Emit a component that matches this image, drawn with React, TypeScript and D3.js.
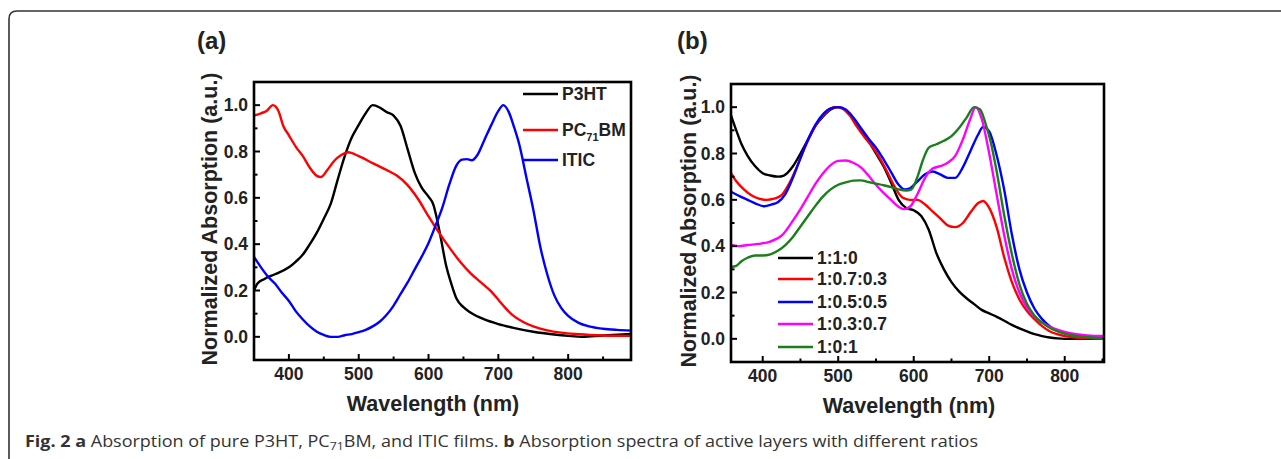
import * as d3 from "d3";
import React from "react";

// ---- data (wavelength nm, normalized absorption) ----
const p3ht: [number, number][] = [
  [350, 0.2], [355, 0.23], [365, 0.25], [380, 0.27], [400, 0.3], [410, 0.325], [420, 0.355],
  [430, 0.4], [440, 0.45], [450, 0.51], [460, 0.575], [470, 0.68], [480, 0.78], [490, 0.86],
  [500, 0.915], [510, 0.965], [520, 1.0], [530, 0.99], [540, 0.97], [550, 0.955], [560, 0.91],
  [570, 0.81], [580, 0.71], [590, 0.645], [600, 0.605], [607, 0.57], [612, 0.51], [618, 0.42],
  [625, 0.31], [632, 0.235], [640, 0.165], [650, 0.128], [660, 0.105], [680, 0.075], [700, 0.055],
  [720, 0.04], [750, 0.022], [780, 0.01], [800, 0.004], [820, 0.0], [850, 0.006], [890, 0.012],
];

const pc71bm: [number, number][] = [
  [350, 0.955], [360, 0.965], [368, 0.975], [377, 1.0], [385, 0.975], [392, 0.91], [400, 0.87],
  [410, 0.82], [420, 0.78], [430, 0.73], [440, 0.695], [446, 0.69], [455, 0.72], [465, 0.76],
  [475, 0.785], [485, 0.797], [500, 0.78], [520, 0.75], [540, 0.72], [555, 0.695], [570, 0.655],
  [585, 0.595], [600, 0.52], [615, 0.45], [630, 0.385], [645, 0.325], [660, 0.275], [675, 0.235],
  [690, 0.195], [700, 0.16], [710, 0.125], [720, 0.095], [735, 0.065], [750, 0.045], [770, 0.028],
  [790, 0.018], [810, 0.012], [840, 0.007], [890, 0.004],
];

const itic: [number, number][] = [
  [350, 0.345], [360, 0.3], [370, 0.26], [380, 0.23], [390, 0.19], [400, 0.155], [410, 0.11],
  [420, 0.075], [430, 0.045], [440, 0.022], [450, 0.008], [460, 0.0], [470, 0.0], [480, 0.007],
  [490, 0.012], [500, 0.02], [510, 0.03], [520, 0.045], [530, 0.065], [540, 0.095], [550, 0.135],
  [560, 0.185], [570, 0.235], [580, 0.29], [590, 0.345], [600, 0.405], [610, 0.48], [620, 0.56],
  [630, 0.66], [640, 0.74], [648, 0.765], [655, 0.767], [662, 0.762], [670, 0.785], [680, 0.85],
  [690, 0.915], [700, 0.975], [707, 1.0], [715, 0.97], [722, 0.91], [730, 0.83], [740, 0.69],
  [750, 0.55], [760, 0.39], [770, 0.27], [780, 0.18], [790, 0.125], [800, 0.09], [815, 0.06],
  [830, 0.045], [850, 0.035], [870, 0.03], [890, 0.027],
];

const r110: [number, number][] = [
  [358, 0.965], [365, 0.9], [372, 0.84], [380, 0.79], [390, 0.745], [400, 0.715], [410, 0.705],
  [420, 0.7], [428, 0.705], [440, 0.745], [450, 0.8], [460, 0.86], [470, 0.92], [480, 0.96],
  [490, 0.99], [500, 1.0], [510, 0.985], [520, 0.95], [530, 0.9], [540, 0.855], [550, 0.8],
  [560, 0.745], [570, 0.675], [580, 0.6], [590, 0.565], [600, 0.555], [610, 0.53], [620, 0.47],
  [630, 0.37], [640, 0.3], [650, 0.245], [660, 0.205], [670, 0.175], [680, 0.15], [690, 0.125],
  [700, 0.11], [710, 0.095], [720, 0.078], [730, 0.06], [740, 0.045], [750, 0.032], [760, 0.02],
  [770, 0.012], [780, 0.006], [790, 0.002], [800, 0.0], [852, 0.0],
];

const r10703: [number, number][] = [
  [358, 0.715], [365, 0.68], [375, 0.645], [385, 0.62], [395, 0.605], [405, 0.6], [415, 0.605],
  [425, 0.62], [435, 0.67], [445, 0.74], [455, 0.82], [465, 0.89], [475, 0.945], [485, 0.98],
  [495, 1.0], [505, 0.995], [515, 0.965], [525, 0.915], [535, 0.87], [545, 0.83], [555, 0.78],
  [565, 0.72], [575, 0.655], [585, 0.61], [595, 0.6], [605, 0.6], [615, 0.58], [625, 0.55],
  [635, 0.52], [645, 0.49], [655, 0.482], [665, 0.5], [675, 0.545], [685, 0.585], [692, 0.595],
  [700, 0.565], [710, 0.48], [720, 0.35], [730, 0.245], [740, 0.17], [750, 0.12], [760, 0.085],
  [770, 0.055], [780, 0.033], [790, 0.02], [800, 0.012], [820, 0.004], [852, 0.0],
];

const r10505: [number, number][] = [
  [358, 0.635], [370, 0.615], [380, 0.6], [390, 0.585], [402, 0.572], [412, 0.58], [420, 0.59],
  [430, 0.625], [440, 0.695], [450, 0.78], [460, 0.86], [470, 0.925], [480, 0.97], [490, 0.995],
  [500, 1.0], [510, 0.99], [520, 0.955], [530, 0.91], [540, 0.865], [550, 0.825], [560, 0.775],
  [570, 0.72], [580, 0.665], [588, 0.645], [595, 0.65], [605, 0.68], [615, 0.71], [625, 0.722],
  [635, 0.71], [645, 0.695], [655, 0.695], [665, 0.74], [675, 0.81], [685, 0.88], [692, 0.915],
  [700, 0.895], [710, 0.79], [720, 0.64], [730, 0.45], [740, 0.3], [750, 0.2], [760, 0.13],
  [770, 0.085], [780, 0.055], [790, 0.035], [800, 0.025], [820, 0.012], [852, 0.005],
];

const r10307: [number, number][] = [
  [358, 0.405], [368, 0.4], [380, 0.405], [395, 0.41], [410, 0.42], [425, 0.445], [440, 0.51],
  [450, 0.56], [460, 0.615], [470, 0.67], [480, 0.715], [490, 0.75], [500, 0.768], [510, 0.77],
  [520, 0.76], [530, 0.74], [540, 0.705], [550, 0.665], [560, 0.63], [570, 0.6], [580, 0.57],
  [587, 0.56], [595, 0.57], [605, 0.625], [615, 0.695], [625, 0.735], [635, 0.745], [645, 0.76],
  [655, 0.79], [665, 0.86], [675, 0.95], [682, 1.0], [690, 0.95], [700, 0.8], [710, 0.62],
  [720, 0.445], [730, 0.3], [740, 0.2], [750, 0.135], [760, 0.095], [770, 0.07], [780, 0.052],
  [790, 0.04], [800, 0.03], [815, 0.02], [830, 0.015], [852, 0.012],
];

const r101: [number, number][] = [
  [358, 0.31], [365, 0.315], [372, 0.335], [380, 0.35], [390, 0.36], [400, 0.36], [410, 0.365],
  [420, 0.38], [430, 0.405], [440, 0.44], [450, 0.485], [460, 0.53], [470, 0.575], [480, 0.615],
  [490, 0.645], [500, 0.665], [510, 0.675], [520, 0.683], [530, 0.684], [540, 0.677], [550, 0.67],
  [560, 0.663], [570, 0.655], [580, 0.645], [590, 0.64], [597, 0.645], [605, 0.7], [612, 0.77],
  [620, 0.825], [630, 0.84], [640, 0.855], [650, 0.875], [660, 0.91], [670, 0.955], [680, 1.0],
  [688, 0.99], [695, 0.93], [702, 0.85], [710, 0.72], [720, 0.53], [730, 0.365], [740, 0.235],
  [750, 0.15], [760, 0.1], [770, 0.07], [780, 0.048], [790, 0.033], [800, 0.022], [820, 0.01],
  [852, 0.002],
];

const xTicks = [400, 500, 600, 700, 800];
const yTicks = [0, 0.2, 0.4, 0.6, 0.8, 1.0];

const FONT = "'Liberation Sans', Arial, sans-serif";

type Series = { name: string; sub?: string; tail?: string; color: string; data: [number, number][] };

const seriesA: Series[] = [
  { name: "P3HT", color: "#000000", data: p3ht },
  { name: "PC", sub: "71", tail: "BM", color: "#ff0000", data: pc71bm },
  { name: "ITIC", color: "#0000ff", data: itic },
];

const seriesB: Series[] = [
  { name: "1:1:0", color: "#000000", data: r110 },
  { name: "1:0.7:0.3", color: "#ff0000", data: r10703 },
  { name: "1:0.5:0.5", color: "#0000ff", data: r10505 },
  { name: "1:0.3:0.7", color: "#ff00ff", data: r10307 },
  { name: "1:0:1", color: "#1a7f1a", data: r101 },
];

type PanelProps = {
  label: string;
  xDomain: [number, number];
  box: { left: number; right: number; top: number; bottom: number };
  series: Series[];
  legend: { x0: number; x1: number; ys: number[] };
  yTitleX: number;
  xTitleX: number;
};

function Panel({ label, xDomain, box, series, legend, yTitleX, xTitleX }: PanelProps) {
  const x = d3.scaleLinear().domain(xDomain).range([box.left, box.right]);
  const y = d3.scaleLinear().domain([-0.1, 1.1]).range([box.bottom, box.top]);
  const line = d3
    .line<[number, number]>()
    .x((d) => x(d[0]))
    .y((d) => y(d[1]))
    .curve(d3.curveMonotoneX);

  const xMinor = d3.range(350, 900, 50).filter((v) => v > xDomain[0] && v < xDomain[1] && v % 100 !== 0);
  const yMinor = [0.1, 0.3, 0.5, 0.7, 0.9];

  return (
    <g fontFamily={FONT} fontWeight="bold">
      <clipPath id={`clip-${label}`}>
        <rect x={box.left} y={box.top} width={box.right - box.left} height={box.bottom - box.top} />
      </clipPath>
      <g clipPath={`url(#clip-${label})`}>
        {series.map((s) => (
          <path key={s.name + (s.tail || "")} d={line(s.data) || ""} fill="none" stroke={s.color} strokeWidth={2.4} />
        ))}
      </g>
      {/* ticks, pointing inward */}
      {xTicks.map((t) => (
        <g key={"xt" + t}>
          <line x1={x(t)} x2={x(t)} y1={box.bottom} y2={box.bottom - 6} stroke="#000" strokeWidth={2} />
          <text x={x(t)} y={box.bottom + 20} textAnchor="middle" fontSize={17.5} fill="#222">
            {t}
          </text>
        </g>
      ))}
      {xMinor.map((t) => (
        <line key={"xm" + t} x1={x(t)} x2={x(t)} y1={box.bottom} y2={box.bottom - 3.5} stroke="#000" strokeWidth={2} />
      ))}
      {yTicks.map((t) => (
        <g key={"yt" + t}>
          <line x1={box.left} x2={box.left + 6} y1={y(t)} y2={y(t)} stroke="#000" strokeWidth={2} />
          <text x={box.left - 6} y={y(t) + 6} textAnchor="end" fontSize={17.5} fill="#222">
            {t.toFixed(1)}
          </text>
        </g>
      ))}
      {yMinor.map((t) => (
        <line key={"ym" + t} x1={box.left} x2={box.left + 3.5} y1={y(t)} y2={y(t)} stroke="#000" strokeWidth={2} />
      ))}
      <rect
        x={box.left}
        y={box.top}
        width={box.right - box.left}
        height={box.bottom - box.top}
        fill="none"
        stroke="#000"
        strokeWidth={2.6}
      />
      {/* legend */}
      {series.map((s, i) => (
        <g key={"lg" + i}>
          <line x1={legend.x0} x2={legend.x1} y1={legend.ys[i]} y2={legend.ys[i]} stroke={s.color} strokeWidth={2.6} />
          <text x={legend.x1 + 4} y={legend.ys[i] + 6} fontSize={17.5} fill="#222">
            {s.name}
            {s.sub && (
              <tspan fontSize={11} dy={5}>
                {s.sub}
              </tspan>
            )}
            {s.tail && <tspan dy={-5}>{s.tail}</tspan>}
          </text>
        </g>
      ))}
      {/* titles */}
      <text
        transform={`translate(${yTitleX},${(box.top + box.bottom) / 2 - 2}) rotate(-90)`}
        textAnchor="middle"
        dominantBaseline="central"
        fontSize={21.5}
        fill="#222"
      >
        Normalized Absorption (a.u.)
      </text>
      <text x={xTitleX} y={box.bottom + 51} textAnchor="middle" fontSize={21.5} fill="#222">
        Wavelength (nm)
      </text>
    </g>
  );
}

export default function App() {
  return (
    <svg width={1281} height={459} style={{ position: "absolute", left: 0, top: 0, background: "#fff" }}>
      <path d="M9,459 V19 Q9,11 17,11 H1281" fill="none" stroke="#333" strokeWidth={1.6} />
      <text x={197} y={49} fontFamily={FONT} fontWeight="bold" fontSize={24} fill="#222">
        (a)
      </text>
      <text x={677} y={49} fontFamily={FONT} fontWeight="bold" fontSize={24} fill="#222">
        (b)
      </text>
      <Panel
        label="a"
        xDomain={[350, 890]}
        box={{ left: 254, right: 631, top: 82, bottom: 360 }}
        series={seriesA}
        legend={{ x0: 523, x1: 558, ys: [94, 130, 160] }}
        yTitleX={210}
        xTitleX={433}
      />
      <Panel
        label="b"
        xDomain={[358, 852]}
        box={{ left: 731, right: 1104, top: 84, bottom: 362 }}
        series={seriesB}
        legend={{ x0: 778, x1: 813, ys: [258, 279, 302, 324, 347] }}
        yTitleX={689}
        xTitleX={909}
      />
      <text x={25} y={447} fontFamily="'Open Sans', 'Noto Sans', sans-serif" fontSize={16} fill="#333" textLength={953} lengthAdjust="spacingAndGlyphs">
        <tspan fontWeight="bold">Fig. 2 a</tspan> Absorption of pure P3HT, PC
        <tspan fontSize={11} dy={3}>71</tspan>
        <tspan dy={-3}>BM, and ITIC films. </tspan>
        <tspan fontWeight="bold">b</tspan> Absorption spectra of active layers with different ratios
      </text>
    </svg>
  );
}
